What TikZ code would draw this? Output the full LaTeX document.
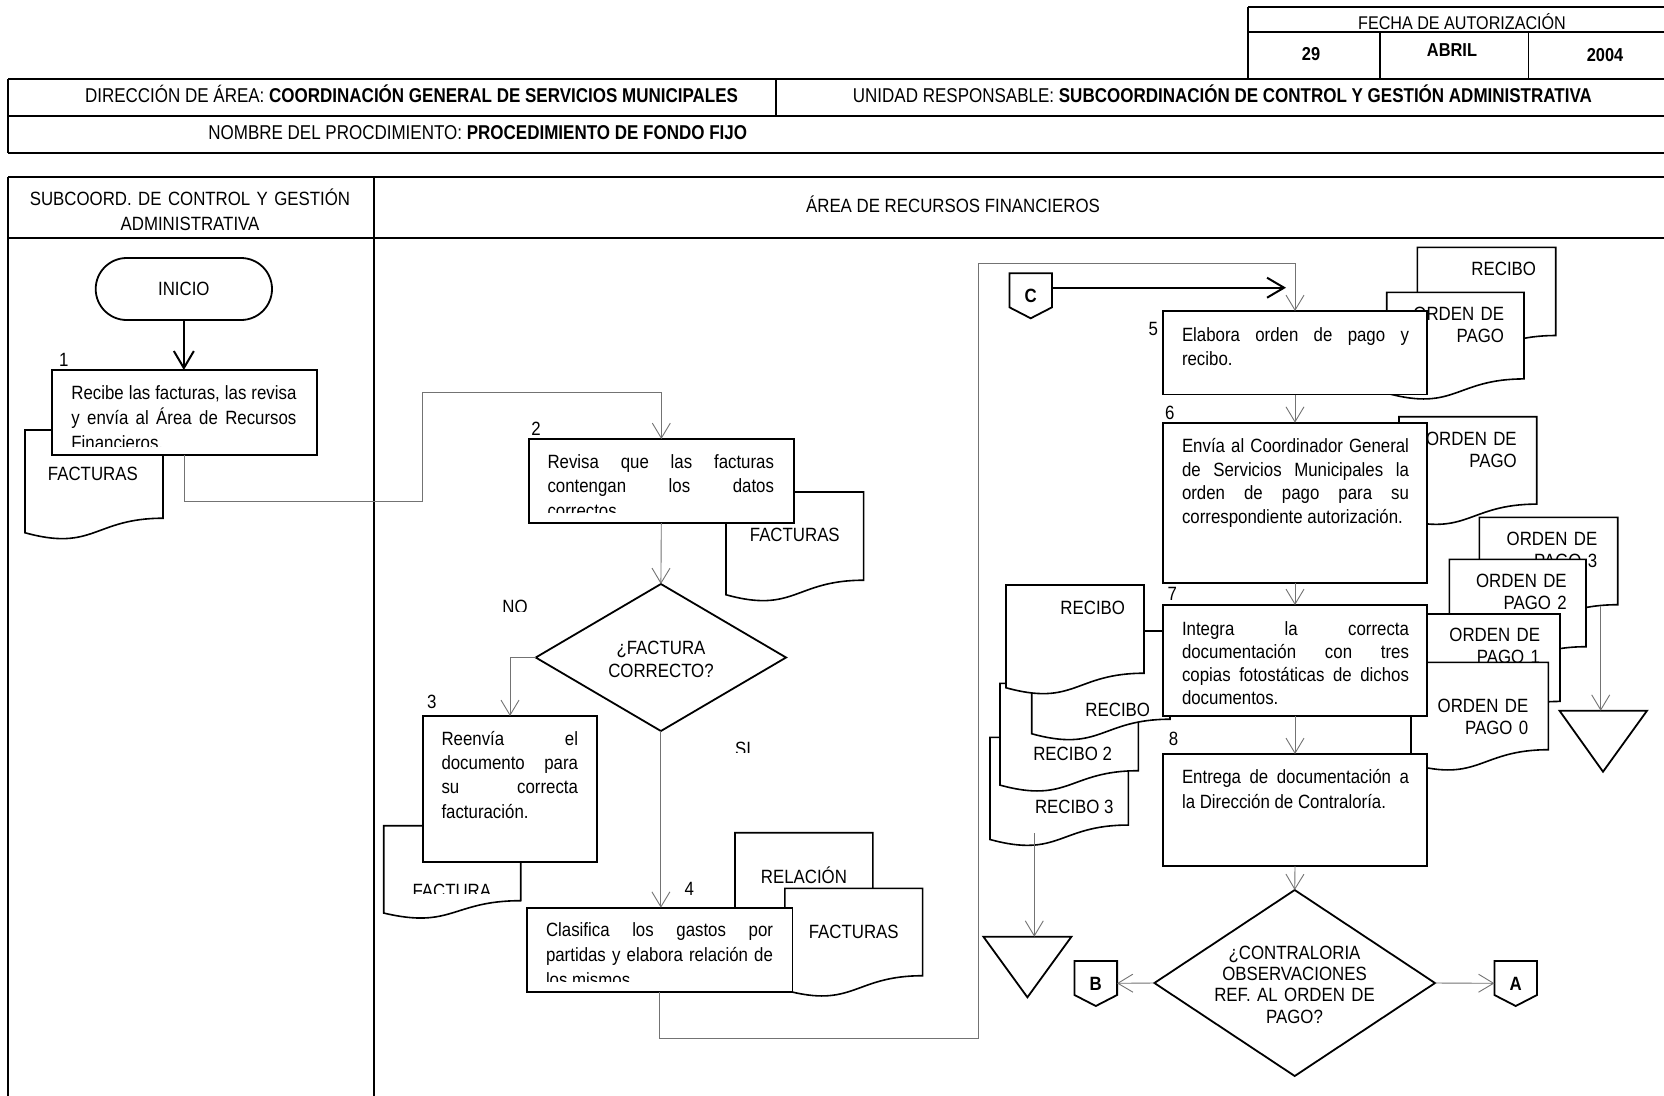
\documentclass[tikz,border=0pt]{standalone}
\usepackage{fontspec}
\setmainfont{Liberation Sans}[FakeStretch=0.877]
\newfontfamily\hdrfont{Liberation Sans}[FakeStretch=0.85]
\usetikzlibrary{arrows.meta,shapes.geometric}

% a line of a justified paragraph, spread to the full width of the text block
% (font interword glue restored so that the spaces can stretch)
\newcommand\jl[1]{\makebox[\hsize][s]{\spaceskip=0pt\xspaceskip=0pt #1}}

% flowchart "document" symbol: name, left x, top y, width, height
\newcommand\docshape[5]{%
  \pgfmathsetmacro\dcXr{#2+#4}%
  \pgfmathsetmacro\dcXm{#2+0.5*#4}%
  \pgfmathsetmacro\dcYr{#3+0.802*#5}%
  \pgfmathsetmacro\dcYc{#3+1.108*#5}%
  \pgfmathsetmacro\dcYl{#3+0.934*#5}%
  \draw[doc] (#2,#3) -- (\dcXr,#3) -- (\dcXr,\dcYr)
    .. controls (\dcXm,\dcYr) and (\dcXm,\dcYc) .. (#2,\dcYl) -- cycle;
  \coordinate (#1) at (\dcXm,#3);}

% off-page connector: name, centre x, top y, letter
\newcommand\offpage[4]{%
  \pgfmathsetmacro\opL{#2-21.3}\pgfmathsetmacro\opR{#2+21.3}%
  \pgfmathsetmacro\opS{#3+34}\pgfmathsetmacro\opP{#3+45}%
  \draw[box] (\opL,#3) -- (\opR,#3) -- (\opR,\opS) -- (#2,\opP) -- (\opL,\opS) -- cycle;
  \node[txt, anchor=base, font=\fontsize{19.2}{24}\selectfont\bfseries] (#1) at (#2,#3+29) {#4};}

\tikzset{
  box/.style={draw, fill=white, line width=1.8, inner sep=0pt, outer sep=0pt},
  doc/.style={draw, fill=white, line width=1.6},
  txt/.style={inner sep=0pt, outer sep=0pt},
  jtxt/.style={txt, anchor=base west, align=justify},
  dtxt/.style={txt, anchor=base east, text width=130, align=right, font=\fontsize{19.2}{22}\selectfont},
  conn/.style={draw=black!55, line width=0.9},
  arr/.style={conn, -{Straight Barb[length=15pt,width=18pt]}},
  boldarr/.style={draw, line width=2, -{Straight Barb[length=17pt,width=20pt]}},
  tbl/.style={line width=2},
  tblthin/.style={line width=1.2},
}

\begin{document}
\begin{tikzpicture}[x=1pt,y=-1pt,font=\fontsize{19.2}{24}\selectfont]
\clip (0,0) rectangle (1664,1095);
\fill[white] (0,0) rectangle (1664,1095);

% ---------- title block ----------
\draw[tbl] (1248,7) -- (1680,7);
\draw[tbl] (1248,32.3) -- (1680,32.3);
\draw[tblthin] (1248,7) -- (1248,79);
\draw[tblthin] (1380,32.3) -- (1380,79);
\draw[tblthin] (1528.7,32.3) -- (1528.7,79);
\node[txt, anchor=base, font=\fontsize{18.4}{20}\selectfont] (fecha) at (1462,29.5) {FECHA DE AUTORIZACIÓN};
\node[txt, anchor=base, font=\fontsize{18.7}{20}\selectfont\bfseries] (dia) at (1311,60.7) {29};
\node[txt, anchor=base, font=\fontsize{18.7}{20}\selectfont\bfseries] (mes) at (1452,56.7) {ABRIL};
\node[txt, anchor=base, font=\fontsize{18.7}{20}\selectfont\bfseries] (anio) at (1605,61.7) {2004};

\draw[tbl] (8,79) -- (1680,79);
\draw[tbl] (8,116) -- (1680,116);
\draw[tbl] (8,152.7) -- (1680,152.7);
\draw[tbl] (8,79) -- (8,152.7);
\draw[tblthin] (776,79) -- (776,116);
\node[txt, anchor=base, font=\hdrfont\fontsize{20}{24}\selectfont] (dir) at (411.5,102.7)
  {DIRECCIÓN DE ÁREA: \textbf{COORDINACIÓN GENERAL DE SERVICIOS MUNICIPALES}};
\node[txt, anchor=base, font=\hdrfont\fontsize{20}{24}\selectfont] (uni) at (1222.4,102.7)
  {UNIDAD RESPONSABLE: \textbf{SUBCOORDINACIÓN DE CONTROL Y GESTIÓN ADMINISTRATIVA}};
\node[txt, anchor=base, font=\hdrfont\fontsize{20}{24}\selectfont] (nom) at (477.7,139.3)
  {NOMBRE DEL PROCDIMIENTO: \textbf{PROCEDIMIENTO DE FONDO FIJO}};

% ---------- swimlanes ----------
\draw[tbl] (8,177.3) -- (1680,177.3);
\draw[tbl] (8,238) -- (1680,238);
\draw[tbl] (8,177.3) -- (8,1100);
\draw[tbl] (374,177.3) -- (374,1100);
\node[txt, anchor=base, text width=340, align=center, font=\fontsize{19.2}{25}\selectfont] (lane1)
  at (190,205) {SUBCOORD. DE CONTROL Y GESTIÓN\\ADMINISTRATIVA};
\node[txt, anchor=base] (lane2) at (953,212.6) {ÁREA DE RECURSOS FINANCIEROS};

% ---------- lane 1 ----------
\node[box, rounded corners=31, minimum width=176.3, minimum height=62] (ini) at (183.85,289) {INICIO};
\docshape{f1}{25}{430}{138}{110}
\node[txt, anchor=base] (f1t) at (92.9,480) {FACTURAS};
\node[box, minimum width=265, minimum height=85] (b1) at (184.3,412.5) {};
\begin{scope}
  \clip (51.8,370) rectangle (316.8,446.7);
  \node[jtxt, text width=225, font=\fontsize{19.2}{25}\selectfont] (t1) at (71.4,399.3)
    {\jl{Recibe las facturas, las revisa}\\\jl{y envía al Área de Recursos}\\Financieros.};
\end{scope}
\node[txt, anchor=base west] (n1) at (59,366) {1};

% ---------- step 2 and decision ----------
\docshape{f2}{726}{492}{137.6}{110}
\node[txt, anchor=base] (f2t) at (794.8,541.7) {FACTURAS};
\node[box, minimum width=265.4, minimum height=84] (b2) at (661.3,481) {};
\begin{scope}
  \clip (528.6,439) rectangle (794,512.7);
  \node[jtxt, text width=226.5, font=\fontsize{19.2}{24.4}\selectfont] (t2) at (547.5,468.3)
    {\jl{Revisa que las facturas}\\\jl{contengan los datos}\\correctos.};
\end{scope}
\node[txt, anchor=base west] (n2) at (531.4,435) {2};

\node[diamond, draw, fill=white, line width=1.8, inner sep=0pt, outer sep=0pt,
  minimum width=250.3, minimum height=147] (d1) at (660.9,657.5) {};
\node[txt, anchor=base, text width=200, align=center, font=\fontsize{19.2}{23.4}\selectfont] (d1t)
  at (661,654.3) {¿FACTURA\\CORRECTO?};
\begin{scope}
  \clip (480,590) rectangle (560,611.5);
  \node[txt, anchor=base] (no) at (515,613) {NO};
\end{scope}
\begin{scope}
  \clip (710,730) rectangle (780,752.7);
  \node[txt, anchor=base] (si) at (743,755) {SI};
\end{scope}

% ---------- step 3 ----------
\docshape{f3}{383.7}{825.7}{137}{93.5}
\begin{scope}
  \clip (383.7,825.7) rectangle (520.7,893.3);
  \node[txt, anchor=base] (f3t) at (451.8,897.5) {FACTURA};
\end{scope}
\node[box, minimum width=174, minimum height=145.7] (b3) at (510,788.85) {};
\node[jtxt, text width=136.5, font=\fontsize{19.2}{24.4}\selectfont] (t3) at (441.5,745)
  {\jl{Reenvía el}\\\jl{documento para}\\\jl{su correcta}\\facturación.};
\node[txt, anchor=base west] (n3) at (427,708) {3};

% ---------- step 4 ----------
\docshape{rel}{735}{832.7}{137.8}{110}
\node[txt, anchor=base] (relt) at (803.9,883.3) {RELACIÓN};
\docshape{f4}{784.8}{888.3}{137.8}{109}
\node[txt, anchor=base] (f4t) at (853.7,938.3) {FACTURAS};
\node[box, minimum width=265.5, minimum height=84.6] (b4) at (659.75,950) {};
\begin{scope}
  \clip (527,907.7) rectangle (792.5,981.7);
  \node[jtxt, text width=227, font=\fontsize{19.2}{25}\selectfont] (t4) at (546,936.7)
    {\jl{Clasifica los gastos por}\\\jl{partidas y elabora relación de}\\los mismos.};
\end{scope}
\node[txt, anchor=base west] (n4) at (684.5,895) {4};

% ---------- step 5 ----------
\docshape{rc5}{1417.3}{247.3}{138.4}{110}
\node[dtxt] (rc5t) at (1536,275) {RECIBO};
\docshape{op5}{1386.7}{292.3}{137.3}{108}
\node[dtxt] (op5t) at (1504,320) {ORDEN DE\\PAGO};
\node[box, minimum width=264, minimum height=83.5] (b5) at (1295,352.75) {};
\node[jtxt, text width=227, font=\fontsize{19.2}{23.3}\selectfont] (t5) at (1182,341.7)
  {\jl{Elabora orden de pago y}\\recibo.};
\node[txt, anchor=base west] (n5) at (1148.6,335) {5};

% ---------- step 6 ----------
\docshape{op6}{1399}{416.7}{137.7}{109}
\node[dtxt] (op6t) at (1516.7,445) {ORDEN DE\\PAGO};
\node[box, minimum width=264, minimum height=160] (b6) at (1295,502.7) {};
\node[jtxt, text width=227, font=\fontsize{19.2}{23.6}\selectfont] (t6) at (1182,452.7)
  {\jl{Envía al Coordinador General}\\\jl{de Servicios Municipales la}\\\jl{orden de pago para su}\\correspondiente autorización.};
\node[txt, anchor=base west] (n6) at (1165,419) {6};

% ---------- copies of the payment order ----------
\docshape{op3}{1479.3}{517.3}{138.4}{109}
\node[dtxt] (op3t) at (1597.3,545) {ORDEN DE\\PAGO 3};
\docshape{op2}{1449.3}{559.3}{136.7}{109}
\node[dtxt] (op2t) at (1566.7,587.3) {ORDEN DE\\PAGO 2};
\docshape{op1}{1422.5}{614}{137.5}{109}
\node[dtxt] (op1t) at (1540,641.7) {ORDEN DE\\PAGO 1};
\docshape{op0}{1411}{662.3}{137.3}{109}
\node[dtxt] (op0t) at (1528.3,712.7) {ORDEN DE\\PAGO 0};

% ---------- receipts ----------
\docshape{rd}{990}{737.3}{138.3}{109.4}
\node[txt, anchor=base west] (rdt) at (1035,813.3) {RECIBO 3};
\docshape{rc}{1000}{683.3}{138.3}{109}
\node[txt, anchor=base west] (rct) at (1033.3,760) {RECIBO 2};
\docshape{rb}{1031.7}{631}{138.3}{110}
\node[dtxt] (rbt) at (1150,716.7) {RECIBO};
\docshape{ra}{1006}{585}{138}{110}
\node[dtxt] (rat) at (1125,614) {RECIBO};

% ---------- steps 7 and 8 ----------
\node[box, minimum width=264, minimum height=110.7] (b7) at (1295,660.35) {};
\node[jtxt, text width=227, font=\fontsize{19.2}{23.3}\selectfont] (t7) at (1182,635)
  {\jl{Integra la correcta}\\\jl{documentación con tres}\\\jl{copias fotostáticas de dichos}\\documentos.};
\node[txt, anchor=base west] (n7) at (1167.5,600) {7};
\node[box, minimum width=264, minimum height=112] (b8) at (1295,810) {};
\node[jtxt, text width=227, font=\fontsize{19.2}{25}\selectfont] (t8) at (1182,783.3)
  {\jl{Entrega de documentación a}\\la Dirección de Contraloría.};
\node[txt, anchor=base west] (n8) at (1168.8,745) {8};

% ---------- final decision, connectors, archive ----------
\node[diamond, draw, fill=white, line width=1.8, inner sep=0pt, outer sep=0pt,
  minimum width=280.6, minimum height=186] (d2) at (1294.7,983) {};
\node[txt, anchor=base, text width=240, align=center, font=\fontsize{19.2}{21.3}\selectfont] (d2t)
  at (1294.5,959.3) {¿CONTRALORIA\\OBSERVACIONES\\REF. AL ORDEN DE\\PAGO?};

\offpage{C}{1030.7}{273.3}{C}
\offpage{B}{1095.8}{961}{B}
\offpage{A}{1515.7}{961}{A}
\coordinate (C-e) at (1052,287.7);
\coordinate (C-end) at (1286,287.7);
\coordinate (B-e) at (1117,983.3);
\coordinate (A-w) at (1494.4,983.3);

\draw[box] (983.4,936.7) -- (1071.4,936.7) -- (1027.4,997.3) -- cycle;
\coordinate (arcL) at (1034.3,936.7);
\draw[box] (1559.5,710.7) -- (1647,710.7) -- (1603,771.7) -- cycle;
\coordinate (arcR) at (1600.7,710.7);
\coordinate (rd-out) at (1034.3,833);
\coordinate (op3-out) at (1600.7,606);
\coordinate (loopTop) at (1295,263.3);

% connectors
\draw[boldarr] (ini.south) -- (ini.south |- b1.north);
\draw[arr] (b1.south) |- (422.5,501) |- (661.3,392) -- (b2.north);
\draw[arr] (b2.south) -- (d1.north);
\draw[arr] (d1.west) -| (b3.north);
\draw[arr] (d1.south) -- (d1.south |- b4.north);
\draw[arr] (b4.south) |- (978,1038.3) |- (loopTop) -- (b5.north);
\draw[boldarr] (C-e) -- (C-end);
\draw[arr] (b5.south) -- (b6.north);
\draw[arr] (b6.south) -- (b7.north);
\draw[arr] (b7.south) -- (b8.north);
\draw[arr] (b8.south) -- (d2.north);
\draw[arr] (d2.west) -- (B-e);
\draw[arr] (d2.east) -- (A-w);
\draw[arr] (rd-out) -- (arcL);
\draw[arr] (op3-out) -- (arcR);
\end{tikzpicture}
\end{document}
